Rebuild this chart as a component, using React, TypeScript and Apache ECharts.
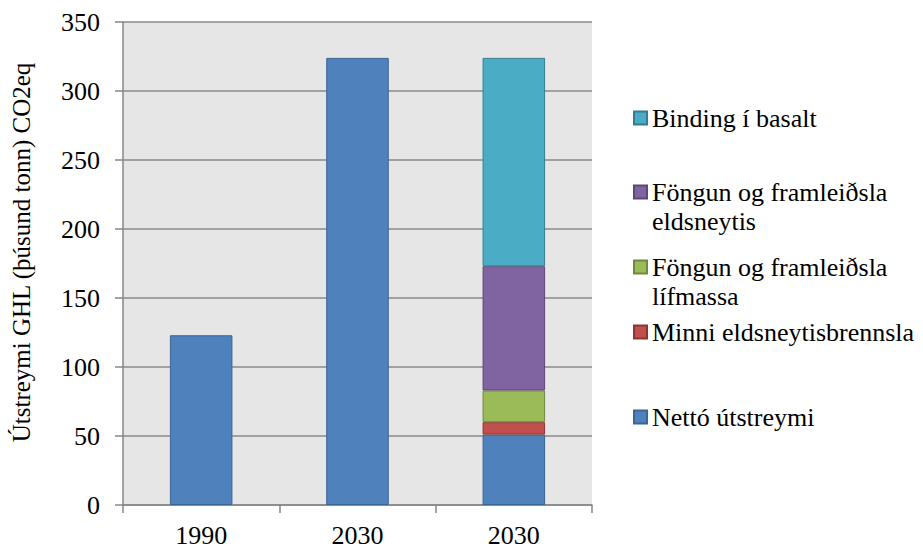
import React, { useEffect, useRef } from "react";
import * as echarts from "echarts";

const categories = ["1990", "2030", "2030"];
const nettoUtstreymi = [123, 324, 51];
const minniBrennsla = [null, null, 9];
const lifmassa = [null, null, 23];
const eldsneytis = [null, null, 90];
const basalt = [null, null, 151];
const yTicks = { min: 0, max: 350, interval: 50 };

const FONT = "Liberation Serif";

export default function App() {
  const ref = useRef<HTMLDivElement>(null);
  useEffect(() => {
    if (!ref.current) return;
    const chart = echarts.init(ref.current, null, { renderer: "svg" });
    const names = {
      basalt: "Binding í basalt",
      eld: "Föngun og framleiðsla eldsneytis",
      lif: "Föngun og framleiðsla lífmassa",
      minni: "Minni eldsneytisbrennsla",
      netto: "Nettó útstreymi",
    };
    const legendBase = {
      orient: "vertical" as const,
      left: 633,
      padding: 0,
      icon: "rect",
      itemWidth: 13,
      itemHeight: 13,
      selectedMode: false,
      textStyle: { fontFamily: FONT, fontSize: 26, color: "#000", lineHeight: 29 },
      formatter: (n: string) => {
        if (n === names.eld) return "\nFöngun og framleiðsla\neldsneytis";
        if (n === names.lif) return "\nFöngun og framleiðsla\nlífmassa";
        return n;
      },
    };
    const mk = (name: string, data: (number | null)[], color: string, border: string) => ({
      name,
      type: "bar",
      stack: "total",
      barWidth: "40%",
      data,
      itemStyle: { color, borderColor: border, borderWidth: 1 },
    });
    chart.setOption({
      animation: false,
      backgroundColor: "#ffffff",
      textStyle: { fontFamily: FONT },
      grid: {
        left: 123,
        right: 331,
        top: 22,
        bottom: 43,
        show: true,
        backgroundColor: "#e6e6e6",
        borderWidth: 0,
      },
      legend: [
        { ...legendBase, top: 103.5, data: [names.basalt] },
        { ...legendBase, top: 148.5, data: [names.eld] },
        { ...legendBase, top: 223.5, data: [names.lif] },
        { ...legendBase, top: 317.5, data: [names.minni] },
        { ...legendBase, top: 402.5, data: [names.netto] },
      ],
      xAxis: {
        type: "category",
        data: categories,
        boundaryGap: true,
        axisLine: { show: true, lineStyle: { color: "#868686", width: 1.5 } },
        axisTick: { show: true, length: 8, lineStyle: { color: "#868686", width: 1.5 } },
        axisLabel: { fontFamily: FONT, fontSize: 26, color: "#000", margin: 17 },
      },
      yAxis: {
        type: "value",
        min: yTicks.min,
        max: yTicks.max,
        interval: yTicks.interval,
        name: "Útstreymi GHL (þúsund tonn) CO2eq",
        nameLocation: "middle",
        nameGap: 89,
        nameRotate: 90,
        nameTextStyle: { fontFamily: FONT, fontSize: 25, color: "#000", padding: [0, 0, 0, 22] },
        axisLine: { show: true, lineStyle: { color: "#868686", width: 1.5 } },
        axisTick: { show: true, length: 8, lineStyle: { color: "#868686", width: 1.5 } },
        axisLabel: { fontFamily: FONT, fontSize: 26, color: "#000", margin: 23 },
        splitLine: { show: true, lineStyle: { color: "#8a8a8a", width: 1.5 } },
      },
      series: [
        mk(names.netto, nettoUtstreymi, "#4F81BD", "#3A6596"),
        mk(names.minni, minniBrennsla, "#C0504D", "#8E3532"),
        mk(names.lif, lifmassa, "#9BBB59", "#71893F"),
        mk(names.eld, eldsneytis, "#8064A2", "#5C4776"),
        mk(names.basalt, basalt, "#4BACC6", "#357D91"),
      ],
    });
    return () => chart.dispose();
  }, []);
  return (
    <div
      ref={ref}
      style={{ position: "fixed", left: 0, top: 0, width: 923, height: 548 }}
    />
  );
}
